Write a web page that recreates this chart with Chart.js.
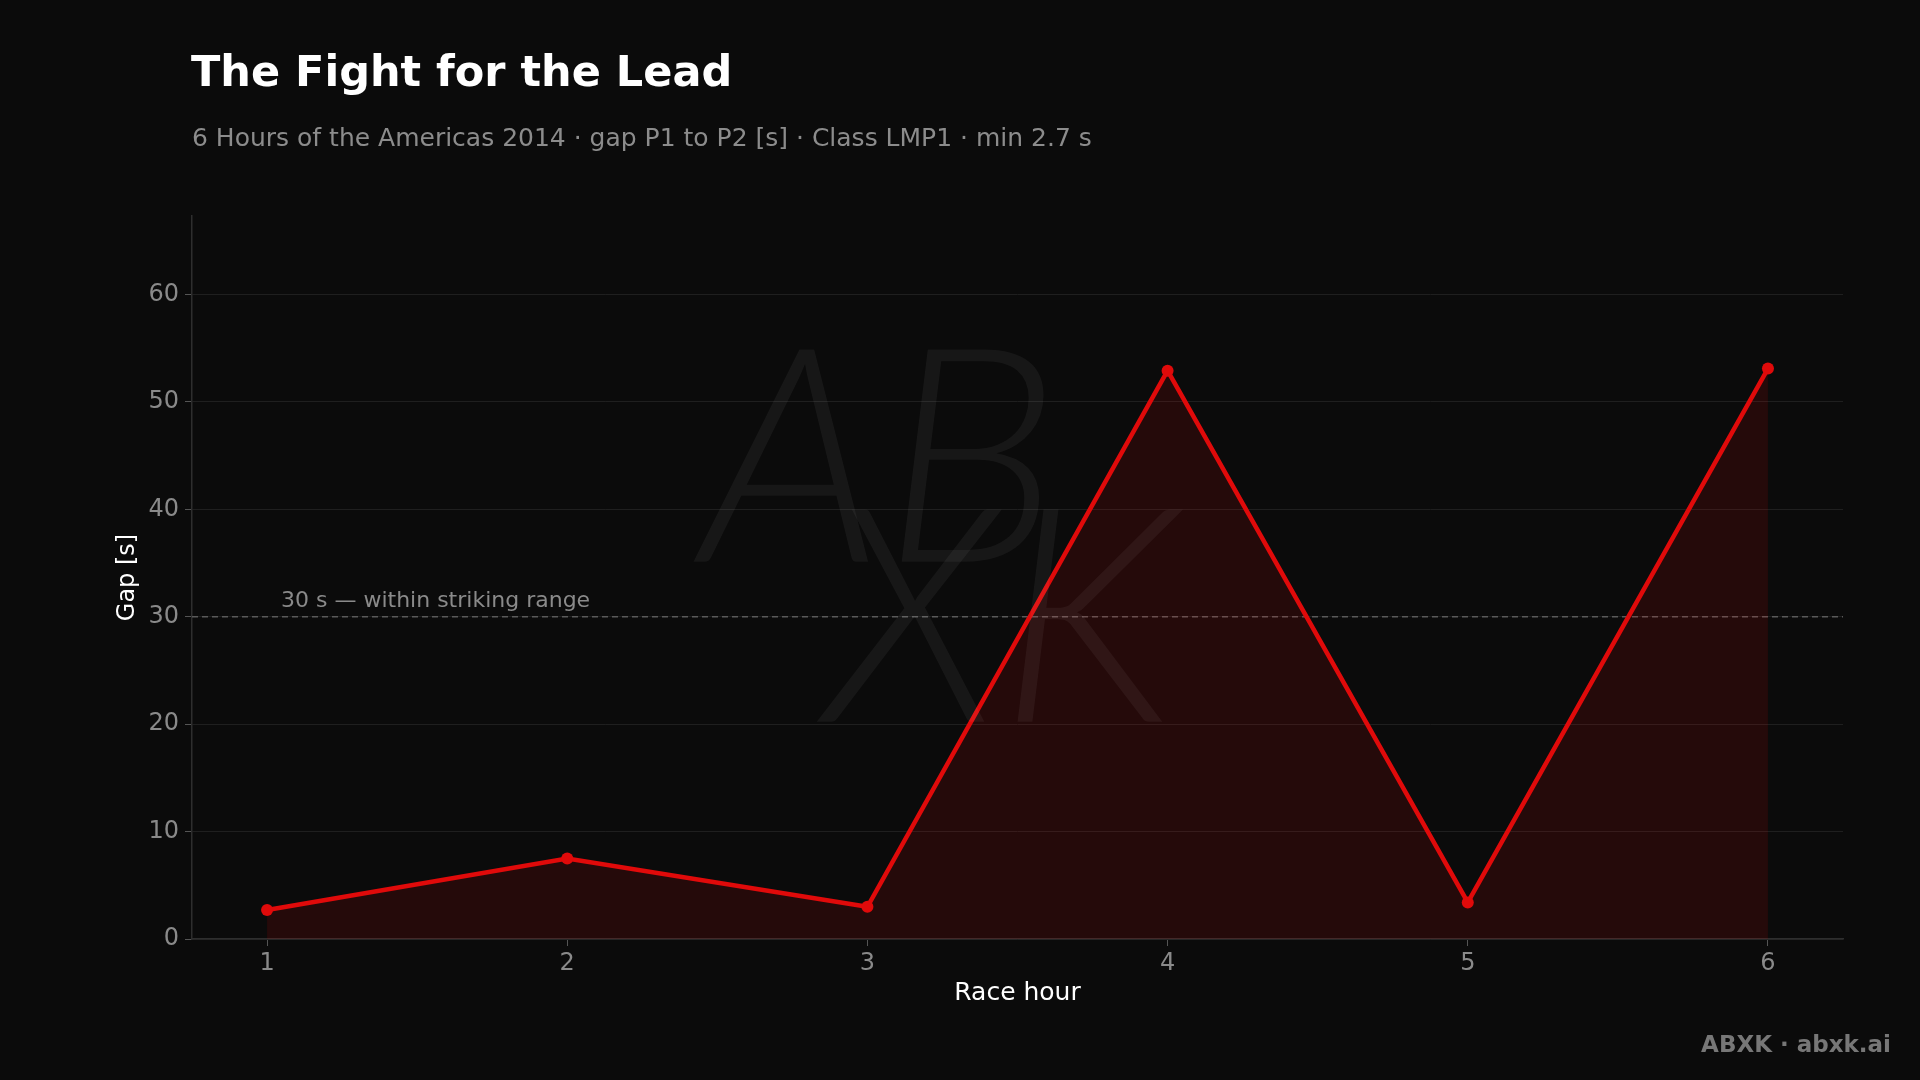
<!DOCTYPE html>
<html>
<head>
<meta charset="utf-8">
<script src="https://cdn.jsdelivr.net/npm/chart.js@4.4.1/dist/chart.umd.min.js"></script>
<style>
  html, body { margin: 0; padding: 0; background: #0b0b0b; }
  #wrap { position: relative; width: 1920px; height: 1080px; }
  canvas { display: block; }
</style>
</head>
<body>
<div id="wrap"><canvas id="c" width="1920" height="1080"></canvas></div>
<script>
// ---- data ----
const hours = [1, 2, 3, 4, 5, 6];
const gapSeconds = [2.7, 7.5, 3.0, 52.9, 3.4, 53.1];
const yTicks = [0, 10, 20, 30, 40, 50, 60];
const thresholdValue = 30;
const thresholdLabel = '30 s — within striking range';
const titleText = 'The Fight for the Lead';
const subtitleText = '6 Hours of the Americas 2014 · gap P1 to P2 [s] · Class LMP1 · min 2.7 s';
const xTitle = 'Race hour';
const yTitle = 'Gap [s]';
const footerText = 'ABXK · abxk.ai';

const FONT = '"DejaVu Sans", "Liberation Sans", sans-serif';

const points = hours.map((h, i) => ({ x: h, y: gapSeconds[i] }));
const xMin = 0.75, xMax = 6.25, yMax = 67.3;

const textPlugin = {
  id: 'texts',
  beforeDraw(chart) {
    const ctx = chart.ctx;
    ctx.save();
    ctx.fillStyle = '#0b0b0b';
    ctx.fillRect(0, 0, chart.width, chart.height);
    ctx.restore();
  },
  afterDatasetsDraw(chart) {
    const ctx = chart.ctx;
    const ys = chart.scales.y;
    ctx.save();
    // watermark
    ctx.fillStyle = 'rgba(255,255,255,0.05)';
    ctx.font = 'italic 300 300px Lato, "DejaVu Sans", sans-serif';
    ctx.textAlign = 'center';
    ctx.textBaseline = 'middle';
    ctx.fillText('AB', 880, 465);
    ctx.fillText('XK', 1000, 625);
    // threshold label
    ctx.fillStyle = '#8a8a8a';
    ctx.font = '22px ' + FONT;
    ctx.textAlign = 'left';
    ctx.textBaseline = 'alphabetic';
    ctx.fillText(thresholdLabel, 281, ys.getPixelForValue(thresholdValue) - 10);
    ctx.restore();
  },
  afterDraw(chart) {
    const ctx = chart.ctx;
    ctx.save();
    ctx.textAlign = 'left';
    ctx.textBaseline = 'alphabetic';
    ctx.fillStyle = '#ffffff';
    ctx.font = 'bold 43px ' + FONT;
    ctx.fillText(titleText, 191, 86);
    ctx.fillStyle = '#8c8c8c';
    ctx.font = '25px ' + FONT;
    ctx.fillText(subtitleText, 192, 146);
    ctx.textAlign = 'right';
    ctx.fillStyle = '#777777';
    ctx.font = 'bold 23px ' + FONT;
    ctx.fillText(footerText, 1891, 1052);
    ctx.restore();
  }
};

new Chart(document.getElementById('c'), {
  type: 'line',
  data: {
    datasets: [
      {
        label: 'Gap',
        data: points,
        borderColor: '#e00a0a',
        backgroundColor: 'rgba(215,10,10,0.13)',
        borderWidth: 4.5,
        fill: 'origin',
        pointRadius: 6,
        pointBackgroundColor: '#e00a0a',
        pointBorderWidth: 0,
        tension: 0,
        order: 1
      },
      {
        label: 'threshold',
        data: [{ x: xMin, y: thresholdValue }, { x: xMax, y: thresholdValue }],
        borderColor: '#5a5a5a',
        borderWidth: 1.5,
        borderDash: [6, 4],
        pointRadius: 0,
        fill: false,
        order: 2
      }
    ]
  },
  plugins: [textPlugin],
  options: {
    responsive: false,
    animation: false,
    devicePixelRatio: 1,
    layout: { padding: { left: 110, top: 216, right: 77, bottom: 68 } },
    plugins: { legend: { display: false }, tooltip: { enabled: false }, title: { display: false } },
    scales: {
      x: {
        type: 'linear',
        min: xMin, max: xMax,
        afterBuildTicks: (s) => { s.ticks = hours.map(v => ({ value: v })); },
        afterFit: (s) => { s.height = 73; },
        grid: { display: true, drawOnChartArea: false, drawTicks: true, tickLength: 7, tickColor: '#555' },
        border: { display: true, color: '#2e2e2e', width: 1.5 },
        ticks: { color: '#8a8a8a', font: { family: FONT, size: 24 }, padding: 3, maxRotation: 0 },
        title: { display: true, text: xTitle, color: '#ffffff', font: { family: FONT, size: 25 }, padding: { top: 2, bottom: 4 } }
      },
      y: {
        type: 'linear',
        min: 0, max: yMax,
        afterBuildTicks: (s) => { s.ticks = yTicks.map(v => ({ value: v })); },
        afterFit: (s) => { s.width = 82; },
        grid: { color: '#1f1f1f', lineWidth: 1, drawTicks: true, tickLength: 7, tickColor: '#555' },
        border: { display: true, color: '#2e2e2e', width: 1.5 },
        ticks: { color: '#8a8a8a', font: { family: FONT, size: 24 }, padding: 6 },
        title: { display: true, text: yTitle, color: '#ffffff', font: { family: FONT, size: 24 }, padding: { top: 3, bottom: 2 } }
      }
    }
  }
});
</script>
</body>
</html>
